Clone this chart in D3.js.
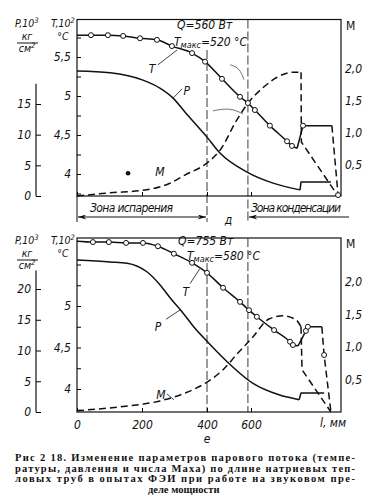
<!DOCTYPE html>
<html>
<head>
<meta charset="utf-8">
<script src="https://cdn.jsdelivr.net/npm/d3@7"></script>
<style>
  body { margin: 0; background: #fff; }
  text { fill: #111; }
  .lab { font-family: "DejaVu Sans Condensed", "DejaVu Sans", sans-serif; font-style: italic; font-size: 12px; }
  .hd { font-family: "DejaVu Sans Condensed", "DejaVu Sans", sans-serif; font-style: italic; font-size: 10.5px; }
  .cap { font-family: "Liberation Serif", "DejaVu Serif", serif; font-size: 10.5px; font-weight: 600; }
</style>
</head>
<body>
<div id="chart"></div>
<script>
// length along the pipe, mm
const xTickVals = [0, 200, 400, 600];
const zoneLines = [400, 586];

// ---- Q = 560 W (upper plot) ----
const q560_T_l = [0, 43, 95, 142, 194, 246, 292, 354, 394, 468, 550, 586, 612, 658, 711, 726, 742];
const q560_T   = [5.78, 5.78, 5.78, 5.77, 5.74, 5.72, 5.64, 5.55, 5.44, 5.22, 4.99, 4.91, 4.82, 4.62, 4.42, 4.36, 4.33];
const q560_Tstep_l = [742, 760, 849];
const q560_Tstep   = [4.33, 4.62, 4.62];
const q560_Tdrop_l = [849, 868];
const q560_Tdrop   = [4.62, 3.73];
const q560_pts_l = [43, 95, 142, 194, 246, 292, 354, 394, 468, 550, 586, 612, 658, 711, 726, 760, 868];
const q560_pts   = [5.78, 5.78, 5.77, 5.74, 5.72, 5.64, 5.55, 5.44, 5.22, 4.99, 4.91, 4.82, 4.62, 4.42, 4.36, 4.62, 3.73];
const q560_P_l = [0, 102, 203, 255, 295, 332, 400, 459, 582, 668, 751];
const q560_P   = [20.4, 20.1, 18.9, 17.6, 16.0, 13.7, 9.6, 7.0, 3.9, 2.1, 1.0];
const q560_Pstep_l = [751, 754, 846];
const q560_Pstep   = [1.0, 2.3, 2.3];
const q560_M_l = [0, 102, 203, 286, 332, 400, 459, 536, 586, 640, 680, 732, 754];
const q560_M   = [0, 0.05, 0.09, 0.20, 0.33, 0.52, 0.72, 1.20, 1.46, 1.72, 1.87, 1.95, 1.95];
const q560_Mdrop_l = [754, 755, 868];
const q560_Mdrop   = [1.95, 0.85, 0];

// ---- Q = 755 W (lower plot) ----
const q755_T_l = [0, 49, 98, 151, 203, 249, 298, 354, 400, 473, 550, 591, 618, 671, 720, 729, 745];
const q755_T   = [5.78, 5.77, 5.77, 5.76, 5.76, 5.72, 5.63, 5.52, 5.40, 5.22, 5.05, 4.95, 4.87, 4.71, 4.57, 4.53, 4.52];
const q755_Tstep_l = [745, 769, 775, 818];
const q755_Tstep   = [4.52, 4.70, 4.75, 4.75];
const q755_Tdrop_l = [818, 825, 846];
const q755_Tdrop   = [4.75, 4.41, 3.72];
const q755_pts_l = [49, 98, 151, 203, 249, 298, 354, 400, 473, 550, 591, 618, 671, 720, 729, 769, 775, 825];
const q755_pts   = [5.77, 5.77, 5.76, 5.76, 5.72, 5.63, 5.52, 5.40, 5.22, 5.05, 4.95, 4.87, 4.71, 4.57, 4.53, 4.70, 4.75, 4.41];
const q755_P_l = [0, 102, 154, 215, 255, 292, 323, 357, 400, 482, 605, 686, 748];
const q755_P   = [24.7, 24.4, 24.2, 22.8, 20.7, 18.2, 16.3, 14.0, 11.5, 8.5, 4.7, 2.8, 2.0];
const q755_Pstep_l = [748, 754, 825];
const q755_Pstep   = [2.0, 3.1, 3.1];
const q755_M_l = [0, 132, 255, 332, 400, 473, 536, 605, 655, 698, 738, 754];
const q755_M   = [0.02, 0.08, 0.17, 0.29, 0.46, 0.65, 0.89, 1.15, 1.43, 1.48, 1.42, 1.31];
const q755_Mdrop_l = [754, 757, 846];
const q755_Mdrop   = [1.31, 0.65, 0];

const captionLines = [
  "Рис  2 18. Изменение  параметров парового  потока (темпе-",
  "ратуры, давления и числа Маха) по длине натриевых  теп-",
  "ловых труб в опытах ФЭИ при работе на звуковом пре-",
  "деле мощности"
];

const zip = (a, b) => a.map((v, i) => [v, b[i]]);
const comma = d => String(d).replace(".", ",");

const W = 370, H = 501;
const svg = d3.select("#chart").append("svg").attr("width", W).attr("height", H);

// the scanned drawing is not evenly spaced along l, so the scale is piecewise
const x = d3.scaleLinear()
  .domain([0, 200, 400, 600, 877])
  .range([77, 142, 207, 251, 341]);

const panels = [
  {
    top: 19.5, bottom: 196,
    y: d3.scaleLinear().domain([4, 5.5]).range([174, 57]),
    yP: d3.scaleLinear().domain([0, 15]).range([196, 104]),
    yM: d3.scaleLinear().domain([0, 2]).range([196, 69]),
    tTicks: [3.75, 4, 4.25, 4.5, 4.75, 5, 5.25, 5.5, 5.75], tLabels: [4, 4.5, 5, 5.5],
    pTicks: [0, 5, 10, 15], pTop: 18.3,
    T: zip(q560_T_l, q560_T), Tstep: zip(q560_Tstep_l, q560_Tstep), Tdrop: zip(q560_Tdrop_l, q560_Tdrop),
    pts: zip(q560_pts_l, q560_pts),
    P: zip(q560_P_l, q560_P), Pstep: zip(q560_Pstep_l, q560_Pstep),
    M: zip(q560_M_l, q560_M), Mdrop: zip(q560_Mdrop_l, q560_Mdrop),
    q: "Q=560 Вт", tmax: "=520 °C", qY: 29, tY: 46, qX: 177, tX: 174,
    head: { pY: 27, kgY: 40, lineY: 43, cmY: 52, cY: 39 },
    zoneTop: 50,
    // labels in [l, T] units
    labels: [
      { t: "T", at: [231, 5.35], from: [249, 5.40], to: [308, 5.59] },
      { t: "P", at: [338, 5.06], from: [295, 4.97], to: [323, 5.09] },
      { t: "M", at: [255, 4.02] }
    ],
    dot: [157, 4.01],
    arcs: [[[505, 5.40], [548, 5.36], [568, 5.21]], [[427, 4.81], [505, 4.85], [564, 4.77]]]
  },
  {
    top: 238, bottom: 412,
    y: d3.scaleLinear().domain([4, 5]).range([389, 306]),
    yP: d3.scaleLinear().domain([0, 20]).range([412, 289]),
    yM: d3.scaleLinear().domain([0, 2]).range([412, 282]),
    tTicks: [3.75, 4, 4.25, 4.5, 4.75, 5, 5.25, 5.5], tLabels: [4, 4.5, 5],
    pTicks: [0, 5, 10, 15, 20], pTop: 23,
    T: zip(q755_T_l, q755_T), Tstep: zip(q755_Tstep_l, q755_Tstep), Tdrop: zip(q755_Tdrop_l, q755_Tdrop),
    pts: zip(q755_pts_l, q755_pts),
    P: zip(q755_P_l, q755_P), Pstep: zip(q755_Pstep_l, q755_Pstep),
    M: zip(q755_M_l, q755_M), Mdrop: zip(q755_Mdrop_l, q755_Mdrop),
    q: "Q=755 Вт", tmax: "=580 °C", qY: 245, tY: 260, qX: 178, tX: 187,
    head: { pY: 244, kgY: 257, lineY: 260, cmY: 269, cY: 256 },
    zoneTop: 263,
    labels: [
      { t: "T", at: [335, 5.17], from: [348, 5.27], to: [378, 5.45] },
      { t: "P", at: [249, 4.75], from: [274, 4.84], to: [320, 4.96] },
      { t: "M", at: [258, 3.93], from: [277, 3.94], to: [298, 3.87] }
    ],
    dot: null,
    arcs: []
  }
];

const defs = svg.append("defs");
defs.append("marker").attr("id", "arr")
  .attr("viewBox", "0 0 10 6").attr("refX", 10).attr("refY", 3)
  .attr("markerWidth", 9).attr("markerHeight", 5).attr("orient", "auto-start-reverse")
  .append("path").attr("d", "M0,0 L10,3 L0,6 L3,3 z").attr("fill", "#111");

panels.forEach((p, k) => {
  const g = svg.append("g");
  const xl = x.range()[0], xr = x.range()[x.range().length - 1];

  // zone boundaries
  zoneLines.forEach((v, i) => {
    g.append("line")
      .attr("x1", x(v)).attr("x2", x(v))
      .attr("y1", i === 0 ? p.zoneTop : p.top)
      .attr("y2", k === 0 ? 222 : p.bottom)
      .attr("stroke", "#222").attr("stroke-width", 0.9)
      .attr("stroke-dasharray", "9,3");
  });

  // frame
  g.append("rect")
    .attr("x", xl).attr("y", p.top)
    .attr("width", xr - xl).attr("height", p.bottom - p.top)
    .attr("fill", "none").attr("stroke", "#111").attr("stroke-width", 1.2);

  // T axis (inner left)
  const tAx = g.append("g").attr("transform", `translate(${xl},0)`)
    .call(d3.axisLeft(p.y).tickValues(p.tTicks).tickSize(-4).tickPadding(6)
      .tickFormat(d => p.tLabels.includes(d) ? comma(d) : ""));
  tAx.select(".domain").remove();
  tAx.attr("font-size", null).attr("font-family", null);
  tAx.selectAll("text").attr("class", "lab");

  // P axis (outer left)
  const pAx = g.append("g").attr("transform", "translate(36,0)")
    .call(d3.axisLeft(p.yP).tickValues(p.pTicks).tickSize(-5).tickPadding(5).tickFormat(d => d));
  pAx.select(".domain").remove();
  pAx.attr("font-size", null).attr("font-family", null);
  pAx.selectAll("text").attr("class", "lab");
  g.append("line").attr("x1", 36).attr("x2", 36)
    .attr("y1", p.yP(0)).attr("y2", p.yP(p.pTop))
    .attr("stroke", "#111").attr("stroke-width", 1.2);

  // M axis (right)
  const mAx = g.append("g").attr("transform", `translate(${xr},0)`)
    .call(d3.axisRight(p.yM).tickValues([0.5, 1, 1.5, 2]).tickSize(0).tickPadding(4)
      .tickFormat(d => comma(d.toFixed(1))));
  mAx.select(".domain").remove();
  mAx.attr("font-size", null).attr("font-family", null);
  mAx.selectAll("text").attr("class", "lab");

  // l axis ticks (inside)
  const xAx = g.append("g").attr("transform", `translate(0,${p.bottom})`)
    .call(d3.axisBottom(x).tickValues(xTickVals).tickSize(-4).tickPadding(8)
      .tickFormat(k === 1 ? (d => d) : ""));
  xAx.select(".domain").remove();
  xAx.attr("font-size", null).attr("font-family", null);
  xAx.selectAll("text").attr("class", "lab");

  // headings
  g.append("text").attr("class", "hd").attr("x", 15).attr("y", p.head.pY)
    .text("P,10").append("tspan").attr("dy", -4).attr("font-size", 7.5).text("3");
  g.append("text").attr("class", "hd").attr("x", 27).attr("y", p.head.kgY)
    .attr("text-anchor", "middle").text("кг");
  g.append("line").attr("x1", 17).attr("x2", 38).attr("y1", p.head.lineY).attr("y2", p.head.lineY)
    .attr("stroke", "#111").attr("stroke-width", 1);
  g.append("text").attr("class", "hd").attr("x", 27).attr("y", p.head.cmY)
    .attr("text-anchor", "middle").text("см")
    .append("tspan").attr("dy", -4).attr("font-size", 7.5).text("2");
  g.append("text").attr("class", "hd").attr("x", 51).attr("y", p.head.pY)
    .text("T,10").append("tspan").attr("dy", -4).attr("font-size", 7.5).text("2");
  g.append("text").attr("class", "hd").attr("x", 63).attr("y", p.head.cY + 1)
    .attr("text-anchor", "middle").text("°C");
  g.append("text").attr("class", "lab").attr("x", 346).attr("y", p.top + 10)
    .style("font-style", "normal").text("M");

  // Q and T max
  g.append("text").attr("class", "lab").attr("x", p.qX).attr("y", p.qY).text(p.q);
  const tm = g.append("text").attr("class", "lab").attr("x", p.tX).attr("y", p.tY);
  tm.append("tspan").text("T");
  tm.append("tspan").attr("dy", 2).attr("font-size", 9).text("макс");
  tm.append("tspan").attr("dy", -2).text(p.tmax);

  // curves
  const smooth = (sc) => d3.line().x(d => x(d[0])).y(d => sc(d[1])).curve(d3.curveMonotoneX);
  const straight = (sc) => d3.line().x(d => x(d[0])).y(d => sc(d[1]));
  const stroke = (path, dash) => path.attr("fill", "none").attr("stroke", "#111")
    .attr("stroke-width", 1.5).attr("stroke-dasharray", dash || null)
    .attr("stroke-linejoin", "round");

  stroke(g.append("path").attr("d", smooth(p.yP)(p.P)));
  stroke(g.append("path").attr("d", straight(p.yP)(p.Pstep)));
  stroke(g.append("path").attr("d", smooth(p.yM)(p.M)), "7,4");
  stroke(g.append("path").attr("d", straight(p.yM)(p.Mdrop)), "7,4");
  stroke(g.append("path").attr("d", smooth(p.y)(p.T)));
  stroke(g.append("path").attr("d", straight(p.y)(p.Tstep)));
  stroke(g.append("path").attr("d", straight(p.y)(p.Tdrop)), "7,4");

  g.selectAll(null).data(p.pts).join("circle")
    .attr("cx", d => x(d[0])).attr("cy", d => p.y(d[1])).attr("r", 2.5)
    .attr("fill", "#fff").attr("stroke", "#111").attr("stroke-width", 1);

  // labels + leaders
  p.labels.forEach(lb => {
    g.append("text").attr("class", "lab").attr("text-anchor", "middle")
      .attr("x", x(lb.at[0])).attr("y", p.y(lb.at[1]) + 4).text(lb.t);
    if (lb.from) {
      g.append("line")
        .attr("x1", x(lb.from[0])).attr("y1", p.y(lb.from[1]))
        .attr("x2", x(lb.to[0])).attr("y2", p.y(lb.to[1]))
        .attr("stroke", "#111").attr("stroke-width", 0.8);
    }
  });
  p.arcs.forEach(a => {
    g.append("path").attr("d", d3.line().x(d => x(d[0])).y(d => p.y(d[1])).curve(d3.curveBasis)(a))
      .attr("fill", "none").attr("stroke", "#333").attr("stroke-width", 0.7);
  });
  if (p.dot) {
    g.append("circle").attr("cx", x(p.dot[0])).attr("cy", p.y(p.dot[1])).attr("r", 2.3).attr("fill", "#111");
  }

  if (k === 0) {
    // zones under the upper plot
    g.append("line").attr("x1", xl).attr("x2", xl).attr("y1", p.bottom).attr("y2", 222)
      .attr("stroke", "#111").attr("stroke-width", 1);
    g.append("line").attr("x1", xl + 1).attr("x2", x(zoneLines[0]) - 1).attr("y1", 217).attr("y2", 217)
      .attr("stroke", "#111").attr("stroke-width", 1)
      .attr("marker-start", "url(#arr)").attr("marker-end", "url(#arr)");
    g.append("line").attr("x1", x(zoneLines[1]) + 1).attr("x2", 349).attr("y1", 217).attr("y2", 217)
      .attr("stroke", "#111").attr("stroke-width", 1)
      .attr("marker-start", "url(#arr)");
    g.append("text").attr("class", "lab").attr("x", 90).attr("y", 212)
      .attr("textLength", 83).attr("lengthAdjust", "spacing").text("Зона испарения");
    g.append("text").attr("class", "lab").attr("x", 251).attr("y", 212)
      .attr("textLength", 90).attr("lengthAdjust", "spacing").text("Зона конденсации");
    g.append("text").attr("class", "lab").attr("x", (x(zoneLines[0]) + x(zoneLines[1])) / 2 + 1).attr("y", 224)
      .attr("text-anchor", "middle").text("д");
  } else {
    g.append("text").attr("class", "lab").attr("x", 333).attr("y", 427)
      .attr("text-anchor", "middle").text("l, мм");
    g.append("text").attr("class", "lab").attr("x", x(zoneLines[0])).attr("y", 443)
      .attr("text-anchor", "middle").text("e");
  }
});

// caption
captionLines.forEach((t, i) => {
  const tx = svg.append("text").attr("class", "cap")
    .attr("x", i < 3 ? 15 : 148).attr("y", 461 + i * 10.5).text(t);
  if (i < 3) tx.attr("textLength", 340).attr("lengthAdjust", "spacing");
});
</script>
</body>
</html>
